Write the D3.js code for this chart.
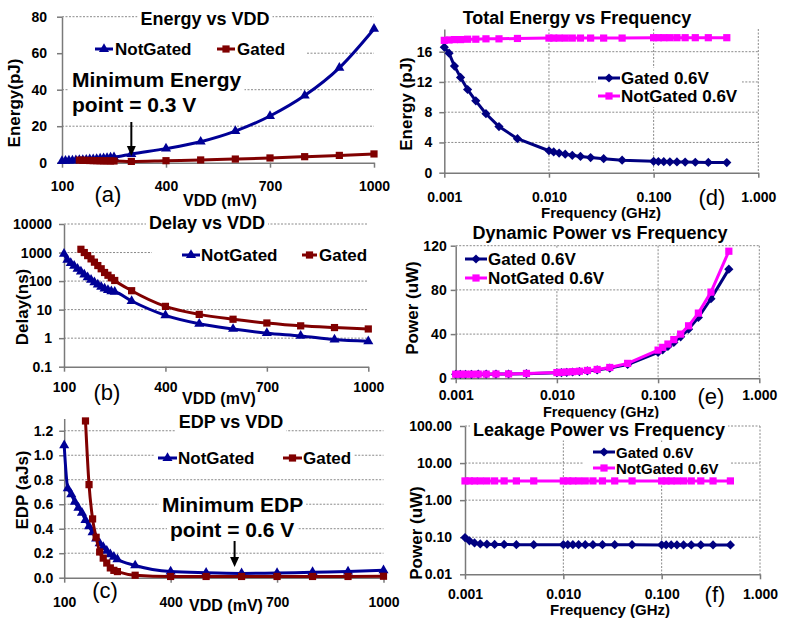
<!DOCTYPE html>
<html>
<head>
<meta charset="utf-8">
<script src="https://cdn.jsdelivr.net/npm/d3@7"></script>
<style>
  body { margin: 0; background: #fff; }
  svg text { font-family: "Liberation Sans", Arial, sans-serif; font-weight: bold; fill: #000; }
</style>
</head>
<body>
<svg id="chart" width="792" height="618"></svg>
<script>
'use strict';

// ---- data ----
var vdd = [100, 110, 120, 130, 140, 150, 160, 170, 180, 190, 200, 210, 220, 230, 240, 250, 300, 400, 500, 600, 700, 800, 900, 1000];
var vddGated = [150, 160, 170, 180, 190, 200, 210, 220, 230, 240, 250, 300, 400, 500, 600, 700, 800, 900, 1000];
var vddEdpGated = [160, 170, 180, 190, 200, 210, 220, 230, 240, 250, 300, 400, 500, 600, 700, 800, 900, 1000];

var energyNotGated = [0.9, 1.0, 1.1, 1.2, 1.3, 1.4, 1.5, 1.6, 1.8, 1.9, 2.0, 2.2, 2.4, 2.6, 2.8, 3.0, 4.7, 7.7, 11.5, 17.3, 25.6, 36.8, 52.0, 73.3];
var energyGated = [1.4, 1.3, 1.25, 1.2, 1.15, 1.1, 1.05, 1.0, 1.0, 0.95, 0.95, 0.7, 1.1, 1.5, 2.0, 2.6, 3.3, 4.0, 4.8];

var delayNotGated = [900, 550, 430, 340, 270, 215, 170, 135, 110, 90, 75, 63, 55, 48, 44, 42, 20, 6.3, 3.2, 2.1, 1.5, 1.2, 0.9, 0.78];
var delayGated = [1300, 1000, 780, 600, 460, 350, 270, 200, 160, 130, 105, 46, 13, 6.8, 4.6, 3.4, 2.7, 2.35, 2.1];

var edpNotGated = [1.08, 0.73, 0.68, 0.62, 0.57, 0.53, 0.47, 0.42, 0.37, 0.32, 0.28, 0.25, 0.22, 0.19, 0.17, 0.15, 0.10, 0.05, 0.04, 0.035, 0.038, 0.045, 0.05, 0.06];
var edpGated = [1.28, 0.76, 0.48, 0.33, 0.21, 0.16, 0.12, 0.08, 0.06, 0.05, 0.02, 0.01, 0.01, 0.01, 0.01, 0.01, 0.01, 0.012];

var freq = [0.001, 0.00111, 0.00125, 0.00143, 0.00167, 0.002, 0.0025, 0.00333, 0.005, 0.01, 0.0111, 0.0125, 0.0143, 0.0167, 0.02, 0.025, 0.0333, 0.05, 0.1, 0.111, 0.125, 0.143, 0.167, 0.2, 0.25, 0.333, 0.5];

var totalEnergyGated = [16.6, 15.8, 14.1, 12.6, 11.0, 9.5, 7.8, 6.1, 4.5, 2.9, 2.75, 2.6, 2.45, 2.3, 2.15, 2.0, 1.85, 1.65, 1.5, 1.48, 1.46, 1.44, 1.42, 1.4, 1.38, 1.36, 1.34];
var totalEnergyNotGated = [17.5, 17.55, 17.6, 17.6, 17.65, 17.65, 17.7, 17.7, 17.75, 17.8, 17.8, 17.8, 17.8, 17.8, 17.8, 17.8, 17.8, 17.8, 17.85, 17.85, 17.85, 17.85, 17.85, 17.85, 17.85, 17.85, 17.85];

var dynPowerGated = [3.6, 3.6, 3.6, 3.6, 3.7, 3.7, 3.8, 3.9, 4.2, 5.0, 5.2, 5.4, 5.7, 6.1, 6.7, 7.6, 9.2, 12.5, 23.5, 25.8, 28.8, 32.5, 37.5, 44.5, 55.0, 72.0, 98.8];
var dynPowerNotGated = [3.7, 3.7, 3.7, 3.7, 3.8, 3.8, 3.9, 4.0, 4.4, 5.2, 5.4, 5.7, 6.0, 6.4, 7.1, 8.0, 9.8, 13.5, 25.5, 28.0, 31.0, 35.0, 40.0, 47.5, 59.0, 78.0, 115.0];

var leakGated = [0.098, 0.08, 0.07, 0.066, 0.065, 0.064, 0.064, 0.063, 0.063, 0.063, 0.063, 0.063, 0.063, 0.063, 0.063, 0.063, 0.063, 0.063, 0.062, 0.062, 0.062, 0.062, 0.062, 0.062, 0.062, 0.062, 0.062];
var leakNotGated = [3.3, 3.3, 3.3, 3.3, 3.3, 3.3, 3.3, 3.3, 3.3, 3.3, 3.3, 3.3, 3.3, 3.3, 3.3, 3.3, 3.3, 3.3, 3.3, 3.3, 3.3, 3.3, 3.3, 3.3, 3.3, 3.3, 3.3];

// ---- tick labels ----
var vddTicks = [100, 400, 700, 1000];
var energyTicks = [0, 20, 40, 60, 80];
var delayTicks = [0.1, 1, 10, 100, 1000, 10000];
var delayTickLabels = ['0.1', '1', '10', '100', '1000', '10000'];
var edpTicks = [0, 0.2, 0.4, 0.6, 0.8, 1.0, 1.2];
var edpTickLabels = ['0.0', '0.2', '0.4', '0.6', '0.8', '1.0', '1.2'];
var freqTicks = [0.001, 0.01, 0.1, 1];
var freqTickLabels = ['0.001', '0.010', '0.100', '1.000'];
var totalEnergyTicks = [0, 4, 8, 12, 16];
var dynPowerTicks = [0, 40, 80, 120];
var leakTicks = [0.01, 0.1, 1, 10, 100];
var leakTickLabels = ['0.01', '0.10', '1.00', '10.00', '100.00'];

var blue = '#000096', red = '#800000', navy = '#000080', pink = '#FF00FF';
var axisColor = '#7a7a7a', gridColor = '#8a8a8a';

var svg = d3.select('#chart');

function marker(sel, shape, color) {
  if (shape === 'tri') {
    sel.attr('d', d3.symbol().type(d3.symbolTriangle).size(44)());
  } else if (shape === 'sq') {
    sel.attr('d', d3.symbol().type(d3.symbolSquare).size(52)());
  } else {
    // excel diamond = square turned 45 degrees
    sel.attr('d', 'M0,-4.6L4.6,0L0,4.6L-4.6,0Z');
  }
  sel.attr('fill', color);
}

function addText(g, str, x, y, o) {
  o = o || {};
  var t = g.append('text')
    .attr('x', x).attr('y', y)
    .attr('text-anchor', o.anchor || 'start')
    .style('font-size', (o.size || 14) + 'px')
    .text(str);
  if (o.normal) t.style('font-weight', 'normal');
  if (o.rotate) t.attr('transform', 'rotate(-90,' + x + ',' + y + ')');
  return t;
}

// white box behind a text/legend so gridlines stop there, like excel
function whiteBehind(g, node, pad, xr) {
  var b = node.getBBox();
  var x0 = xr ? xr[0] : b.x - pad, x1 = xr ? xr[1] : b.x + b.width + pad;
  g.insert('rect', function() { return node; })
    .attr('x', x0).attr('y', b.y - 1)
    .attr('width', x1 - x0).attr('height', b.height + 2)
    .attr('fill', '#fff');
}

function drawPanel(p) {
  var g = svg.append('g');
  var x = (p.xLog ? d3.scaleLog() : d3.scaleLinear()).domain(p.xDomain).range([p.left, p.right]);
  var y = (p.yLog ? d3.scaleLog() : d3.scaleLinear()).domain(p.yDomain).range([p.bottom, p.top]);

  // gridlines
  g.selectAll(null).data(p.yGrid).enter().append('line')
    .attr('x1', p.left).attr('x2', p.right)
    .attr('y1', function(d) { return y(d); }).attr('y2', function(d) { return y(d); })
    .attr('stroke', gridColor).attr('stroke-width', 1).attr('stroke-dasharray', '2,1.5');
  if (p.xGrid) {
    g.selectAll(null).data(p.xGrid).enter().append('line')
      .attr('y1', p.top).attr('y2', p.bottom)
      .attr('x1', function(d) { return x(d); }).attr('x2', function(d) { return x(d); })
      .attr('stroke', gridColor).attr('stroke-width', 1).attr('stroke-dasharray', '2,1.5');
  }

  // text boxes with white background (title, legend, notes)
  var t = addText(g, p.title[0], p.title[1], p.title[2], { anchor: 'middle', size: 18 });
  whiteBehind(g, t.node(), 3);

  var lg = g.append('g');
  p.legend.forEach(function(it, i) {
    var s = p.series[i];
    lg.append('line').attr('x1', it[0]).attr('x2', it[1]).attr('y1', it[3]).attr('y2', it[3])
      .attr('stroke', s.color).attr('stroke-width', 3);
    lg.append('path').attr('transform', 'translate(' + ((it[0] + it[1]) / 2) + ',' + it[3] + ')')
      .call(marker, s.shape, s.color);
    addText(lg, s.name, it[2], it[3] + 6, { size: p.legendSize || 17 });
  });
  whiteBehind(g, lg.node(), 3, p.legendBox);

  (p.notes || []).forEach(function(n) {
    var nt = addText(g, n[0], n[1], n[2], { size: 21 });
    whiteBehind(g, nt.node(), 3);
  });

  // axes
  var ya = d3.axisLeft(y).tickValues(p.yTicks).tickSize(5).tickSizeOuter(0).tickPadding(p.yPad)
    .tickFormat(function(d, i) { return p.yLabels ? p.yLabels[i] : d; });
  var xa = d3.axisBottom(x).tickValues(p.xTicks).tickSize(5).tickSizeOuter(0).tickPadding(p.xPad)
    .tickFormat(function(d, i) { return p.xLabels ? p.xLabels[i] : d; });
  [g.append('g').attr('transform', 'translate(' + p.left + ',0)').call(ya),
   g.append('g').attr('transform', 'translate(0,' + p.bottom + ')').call(xa)].forEach(function(a) {
    a.attr('font-family', null).attr('font-size', null);
    a.select('.domain').attr('stroke', axisColor).attr('stroke-width', 1.5);
    a.selectAll('.tick line').attr('stroke', axisColor).attr('stroke-width', 1.5);
    a.selectAll('.tick text').style('font-size', '14px');
  });

  // series
  p.series.forEach(function(s) {
    var pts = s.xs.map(function(v, i) { return [x(v), y(s.ys[i])]; });
    g.append('path').attr('d', d3.line().curve(p.curve)(pts))
      .attr('fill', 'none').attr('stroke', s.color).attr('stroke-width', 3).attr('stroke-linejoin', 'round');
    g.selectAll(null).data(pts).enter().append('path')
      .attr('transform', function(d) { return 'translate(' + d[0] + ',' + d[1] + ')'; })
      .call(marker, s.shape, s.color);
  });

  // arrow for the minimum point
  if (p.arrow) {
    var ax = x(p.arrow[0]) + p.arrow[3];
    g.append('line').attr('x1', ax).attr('x2', ax).attr('y1', p.arrow[1]).attr('y2', p.arrow[2] - 8)
      .attr('stroke', '#000').attr('stroke-width', 2);
    g.append('path').attr('d', 'M' + (ax - 4.5) + ',' + (p.arrow[2] - 10) + 'L' + (ax + 4.5) + ',' + (p.arrow[2] - 10) + 'L' + ax + ',' + p.arrow[2] + 'Z')
      .attr('fill', '#000');
  }

  addText(g, p.yTitle[0], p.yTitle[1], p.yTitle[2], { anchor: 'middle', size: 17, rotate: true });
  addText(g, p.xTitle[0], p.xTitle[1], p.xTitle[2], { anchor: 'middle', size: p.xTitleSize || 16 });
  addText(g, p.letter[0], p.letter[1], p.letter[2], { anchor: 'middle', size: 22, normal: true });
}

// ---- left column: VDD sweeps ----
drawPanel({
  left: 62, right: 374, top: 16.7, bottom: 162.7,
  xDomain: [100, 1000], yDomain: [0, 80], curve: d3.curveMonotoneX,
  xTicks: vddTicks, yTicks: energyTicks, yGrid: [20, 40, 60, 80], yPad: 10, xPad: 12.9,
  series: [
    { name: 'NotGated', xs: vdd, ys: energyNotGated, color: blue, shape: 'tri' },
    { name: 'Gated', xs: vddGated, ys: energyGated, color: red, shape: 'sq' }
  ],
  title: ['Energy vs VDD', 205, 25],
  legend: [[95, 113, 115, 49], [217, 235, 237, 49]], legendBox: [63, 307],
  notes: [['Minimum Energy', 72, 87], ['point = 0.3 V', 72, 112]],
  arrow: [300, 122, 156, 0],
  yTitle: ['Energy(pJ)', 20, 103], xTitle: ['VDD (mV)', 220, 206], letter: ['(a)', 108, 202]
});

drawPanel({
  left: 64, right: 368.3, top: 224, bottom: 366.7, yLog: true,
  xDomain: [100, 1000], yDomain: [0.1, 10000], curve: d3.curveMonotoneX,
  xTicks: vddTicks, yTicks: delayTicks, yLabels: delayTickLabels, yGrid: [1, 10, 100, 1000, 10000], yPad: 7, xPad: 10.4,
  series: [
    { name: 'NotGated', xs: vdd, ys: delayNotGated, color: blue, shape: 'tri' },
    { name: 'Gated', xs: vddGated, ys: delayGated, color: red, shape: 'sq' }
  ],
  title: ['Delay vs VDD', 207, 229],
  legend: [[182, 200, 201, 255], [302, 317, 319, 255]], legendBox: [152, 368],
  yTitle: ['Delay(ns)', 28, 307], xTitle: ['VDD (mV)', 219, 404], letter: ['(b)', 107, 400]
});

drawPanel({
  left: 64.2, right: 383.5, top: 418.5, bottom: 577.7,
  xDomain: [100, 1000], yDomain: [0, 1.3], curve: d3.curveMonotoneX,
  xTicks: vddTicks, yTicks: edpTicks, yLabels: edpTickLabels, yGrid: [0.2, 0.4, 0.6, 0.8, 1.0, 1.2], yPad: 6, xPad: 14.4,
  series: [
    { name: 'NotGated', xs: vdd, ys: edpNotGated, color: blue, shape: 'tri' },
    { name: 'Gated', xs: vddEdpGated, ys: edpGated, color: red, shape: 'sq' }
  ],
  title: ['EDP vs VDD', 231, 428],
  legend: [[158, 177, 178, 458], [283, 302, 303, 458]], legendBox: [155, 354],
  notes: [['Minimum EDP', 162, 512], ['point = 0.6 V', 170, 537]],
  arrow: [600, 541, 567, -7],
  yTitle: ['EDP (aJs)', 28, 490], xTitle: ['VDD (mV)', 226, 611], letter: ['(c)', 105, 598]
});

// ---- right column: frequency sweeps at 0.6 V ----
drawPanel({
  left: 444.3, right: 758.3, top: 29, bottom: 172.7, xLog: true,
  xDomain: [0.001, 1], yDomain: [0, 19], curve: d3.curveLinear,
  xTicks: freqTicks, xLabels: freqTickLabels, yTicks: totalEnergyTicks, yGrid: [4, 8, 12, 16], xGrid: [0.01, 0.1, 1], yPad: 7, xPad: 13.9,
  series: [
    { name: 'Gated 0.6V', xs: freq, ys: totalEnergyGated, color: navy, shape: 'dia' },
    { name: 'NotGated 0.6V', xs: freq, ys: totalEnergyNotGated, color: pink, shape: 'sq' }
  ],
  title: ['Total Energy vs Frequency', 577, 24],
  legend: [[598, 620, 621, 78], [598, 620, 621, 96]], legendBox: [596, 742],
  yTitle: ['Energy (pJ)', 412, 104], xTitle: ['Frequency (GHz)', 601, 218], xTitleSize: 15, letter: ['(d)', 712, 205]
});

drawPanel({
  left: 455.7, right: 759.3, top: 245.7, bottom: 378.3, xLog: true,
  xDomain: [0.001, 1], yDomain: [0, 120], curve: d3.curveLinear,
  xTicks: freqTicks, xLabels: freqTickLabels, yTicks: dynPowerTicks, yGrid: [40, 80, 120], xGrid: [0.01, 0.1, 1], yPad: 4, xPad: 6.8,
  series: [
    { name: 'Gated 0.6V', xs: freq, ys: dynPowerGated, color: navy, shape: 'dia' },
    { name: 'NotGated 0.6V', xs: freq, ys: dynPowerNotGated, color: pink, shape: 'sq' }
  ],
  title: ['Dynamic Power vs Frequency', 600, 239],
  legend: [[465, 487, 488, 259], [465, 487, 488, 278]],
  yTitle: ['Power (uW)', 418, 308], xTitle: ['Frequency (GHz)', 601, 416.5], xTitleSize: 14.5, letter: ['(e)', 711, 404]
});

drawPanel({
  left: 465, right: 760, top: 426, bottom: 574.3, xLog: true, yLog: true,
  xDomain: [0.001, 1], yDomain: [0.01, 100], curve: d3.curveLinear,
  xTicks: freqTicks, xLabels: freqTickLabels, yTicks: leakTicks, yLabels: leakTickLabels, yGrid: [0.1, 1, 10, 100], xGrid: [0.01, 0.1, 1], yPad: 8, xPad: 10,
  series: [
    { name: 'Gated 0.6V', xs: freq, ys: leakGated, color: navy, shape: 'dia' },
    { name: 'NotGated 0.6V', xs: freq, ys: leakNotGated, color: pink, shape: 'sq' }
  ],
  title: ['Leakage Power vs Frequency', 599, 435.5],
  legend: [[593, 615, 616, 452], [593, 615, 616, 468]], legendBox: [583, 731], legendSize: 15,
  yTitle: ['Power (uW)', 422, 533], xTitle: ['Frequency (GHz)', 610, 615], xTitleSize: 15, letter: ['(f)', 715, 602]
});
</script>
</body>
</html>
